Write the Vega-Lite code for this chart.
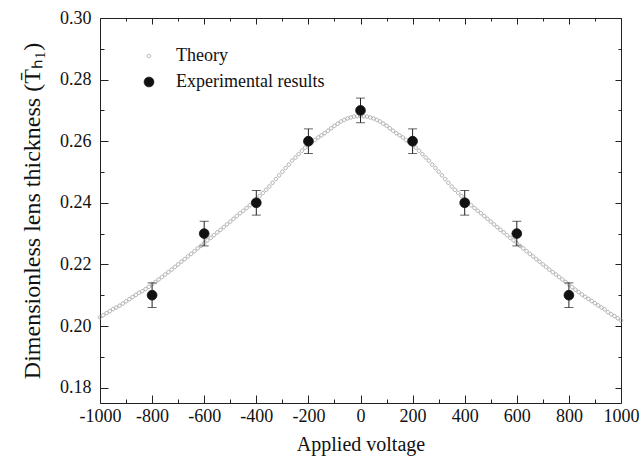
{
  "$schema": "https://vega.github.io/schema/vega-lite/v6.json",
  "width": 521,
  "height": 385,
  "autosize": "none",
  "padding": {"left": 100, "top": 18, "right": 23, "bottom": 53},
  "background": "white",
  "config": {
    "view": {"stroke": "#222", "strokeWidth": 1},
    "font": "Liberation Serif",
    "axis": {
      "domain": false, "grid": false, "tickColor": "#222", "tickWidth": 1,
      "labelFont": "Liberation Serif", "labelFontSize": 18, "labelColor": "#111",
      "titleFont": "Liberation Serif", "titleFontWeight": "normal", "titleColor": "#111",
      "labelOverlap": false, "labelFlush": false, "labelBound": false
    }
  },
  "datasets": {
    "theory": [
      {"v": -1000, "t": 0.2028}, {"v": -987.5, "t": 0.2035}, {"v": -975, "t": 0.2042}, {"v": -962.5, "t": 0.2048},
      {"v": -950, "t": 0.2055}, {"v": -937.5, "t": 0.2060}, {"v": -925, "t": 0.2066}, {"v": -912.5, "t": 0.2073},
      {"v": -900, "t": 0.2080}, {"v": -887.5, "t": 0.2087}, {"v": -875, "t": 0.2094}, {"v": -862.5, "t": 0.2101},
      {"v": -850, "t": 0.2108}, {"v": -837.5, "t": 0.2113}, {"v": -825, "t": 0.2120}, {"v": -812.5, "t": 0.2127},
      {"v": -800, "t": 0.2135}, {"v": -787.5, "t": 0.2143}, {"v": -775, "t": 0.2151}, {"v": -762.5, "t": 0.2159},
      {"v": -750, "t": 0.2167}, {"v": -737.5, "t": 0.2175}, {"v": -725, "t": 0.2183}, {"v": -712.5, "t": 0.2192},
      {"v": -700, "t": 0.2200}, {"v": -687.5, "t": 0.2209}, {"v": -675, "t": 0.2217}, {"v": -662.5, "t": 0.2226},
      {"v": -650, "t": 0.2234}, {"v": -637.5, "t": 0.2243}, {"v": -625, "t": 0.2252}, {"v": -612.5, "t": 0.2260},
      {"v": -600, "t": 0.2269}, {"v": -587.5, "t": 0.2278}, {"v": -575, "t": 0.2286}, {"v": -562.5, "t": 0.2295},
      {"v": -550, "t": 0.2304}, {"v": -537.5, "t": 0.2312}, {"v": -525, "t": 0.2321}, {"v": -512.5, "t": 0.2330},
      {"v": -500, "t": 0.2339}, {"v": -487.5, "t": 0.2348}, {"v": -475, "t": 0.2357}, {"v": -462.5, "t": 0.2366},
      {"v": -450, "t": 0.2374}, {"v": -437.5, "t": 0.2383}, {"v": -425, "t": 0.2392}, {"v": -412.5, "t": 0.2402},
      {"v": -400, "t": 0.2412}, {"v": -387.5, "t": 0.2422}, {"v": -375, "t": 0.2432}, {"v": -362.5, "t": 0.2442},
      {"v": -350, "t": 0.2453}, {"v": -337.5, "t": 0.2465}, {"v": -325, "t": 0.2477}, {"v": -312.5, "t": 0.2489},
      {"v": -300, "t": 0.2501}, {"v": -287.5, "t": 0.2513}, {"v": -275, "t": 0.2524}, {"v": -262.5, "t": 0.2537},
      {"v": -250, "t": 0.2547}, {"v": -237.5, "t": 0.2558}, {"v": -225, "t": 0.2569}, {"v": -212.5, "t": 0.2579},
      {"v": -200, "t": 0.2588}, {"v": -187.5, "t": 0.2596}, {"v": -175, "t": 0.2604}, {"v": -162.5, "t": 0.2612},
      {"v": -150, "t": 0.2619}, {"v": -137.5, "t": 0.2626}, {"v": -125, "t": 0.2634}, {"v": -112.5, "t": 0.2642},
      {"v": -100, "t": 0.2650}, {"v": -87.5, "t": 0.2657}, {"v": -75, "t": 0.2664}, {"v": -62.5, "t": 0.2669},
      {"v": -50, "t": 0.2674}, {"v": -37.5, "t": 0.2677}, {"v": -25, "t": 0.2680}, {"v": -12.5, "t": 0.2681},
      {"v": 0, "t": 0.2682},
      {"v": 12.5, "t": 0.2681}, {"v": 25, "t": 0.2680}, {"v": 37.5, "t": 0.2677}, {"v": 50, "t": 0.2674},
      {"v": 62.5, "t": 0.2669}, {"v": 75, "t": 0.2664}, {"v": 87.5, "t": 0.2657}, {"v": 100, "t": 0.2650},
      {"v": 112.5, "t": 0.2642}, {"v": 125, "t": 0.2634}, {"v": 137.5, "t": 0.2626}, {"v": 150, "t": 0.2619},
      {"v": 162.5, "t": 0.2612}, {"v": 175, "t": 0.2604}, {"v": 187.5, "t": 0.2596}, {"v": 200, "t": 0.2588},
      {"v": 212.5, "t": 0.2579}, {"v": 225, "t": 0.2569}, {"v": 237.5, "t": 0.2558}, {"v": 250, "t": 0.2547},
      {"v": 262.5, "t": 0.2537}, {"v": 275, "t": 0.2524}, {"v": 287.5, "t": 0.2513}, {"v": 300, "t": 0.2501},
      {"v": 312.5, "t": 0.2489}, {"v": 325, "t": 0.2477}, {"v": 337.5, "t": 0.2465}, {"v": 350, "t": 0.2453},
      {"v": 362.5, "t": 0.2442}, {"v": 375, "t": 0.2432}, {"v": 387.5, "t": 0.2422}, {"v": 400, "t": 0.2412},
      {"v": 412.5, "t": 0.2402}, {"v": 425, "t": 0.2392}, {"v": 437.5, "t": 0.2383}, {"v": 450, "t": 0.2374},
      {"v": 462.5, "t": 0.2366}, {"v": 475, "t": 0.2357}, {"v": 487.5, "t": 0.2348}, {"v": 500, "t": 0.2339},
      {"v": 512.5, "t": 0.2330}, {"v": 525, "t": 0.2321}, {"v": 537.5, "t": 0.2312}, {"v": 550, "t": 0.2304},
      {"v": 562.5, "t": 0.2295}, {"v": 575, "t": 0.2286}, {"v": 587.5, "t": 0.2278}, {"v": 600, "t": 0.2269},
      {"v": 612.5, "t": 0.2260}, {"v": 625, "t": 0.2252}, {"v": 637.5, "t": 0.2243}, {"v": 650, "t": 0.2234},
      {"v": 662.5, "t": 0.2226}, {"v": 675, "t": 0.2217}, {"v": 687.5, "t": 0.2209}, {"v": 700, "t": 0.2200},
      {"v": 712.5, "t": 0.2192}, {"v": 725, "t": 0.2183}, {"v": 737.5, "t": 0.2175}, {"v": 750, "t": 0.2167},
      {"v": 762.5, "t": 0.2159}, {"v": 775, "t": 0.2151}, {"v": 787.5, "t": 0.2143}, {"v": 800, "t": 0.2135},
      {"v": 812.5, "t": 0.2126}, {"v": 825, "t": 0.2118}, {"v": 837.5, "t": 0.2110}, {"v": 850, "t": 0.2102},
      {"v": 862.5, "t": 0.2095}, {"v": 875, "t": 0.2088}, {"v": 887.5, "t": 0.2081}, {"v": 900, "t": 0.2074},
      {"v": 912.5, "t": 0.2067}, {"v": 925, "t": 0.2060}, {"v": 937.5, "t": 0.2054}, {"v": 950, "t": 0.2045},
      {"v": 962.5, "t": 0.2038}, {"v": 975, "t": 0.2032}, {"v": 987.5, "t": 0.2025}, {"v": 1000, "t": 0.2018}
    ],
    "exp": [
      {"v": -800, "t": 0.21, "lo": 0.206, "hi": 0.214},
      {"v": -600, "t": 0.23, "lo": 0.226, "hi": 0.234},
      {"v": -400, "t": 0.24, "lo": 0.236, "hi": 0.244},
      {"v": -200, "t": 0.26, "lo": 0.256, "hi": 0.264},
      {"v": 0, "t": 0.27, "lo": 0.266, "hi": 0.274},
      {"v": 200, "t": 0.26, "lo": 0.256, "hi": 0.264},
      {"v": 400, "t": 0.24, "lo": 0.236, "hi": 0.244},
      {"v": 600, "t": 0.23, "lo": 0.226, "hi": 0.234},
      {"v": 800, "t": 0.21, "lo": 0.206, "hi": 0.214}
    ]
  },
  "layer": [
    {
      "data": {"name": "theory"},
      "mark": {"type": "point", "filled": true, "strokeWidth": 0.8, "size": 95, "opacity": 1},
      "encoding": {
        "x": {
          "field": "v", "type": "quantitative",
          "scale": {"domain": [-1000, 1000], "nice": false, "zero": false},
          "axis": {
            "orient": "bottom",
            "values": [-1000, -900, -800, -700, -600, -500, -400, -300, -200, -100, 0, 100, 200, 300, 400, 500, 600, 700, 800, 900, 1000],
            "labelExpr": "datum.value % 200 === 0 ? '' + datum.value : ''",
            "tickSize": {"condition": {"test": "datum.value % 200 === 0", "value": -8}, "value": -4},
            "labelPadding": 12,
            "title": "Applied voltage", "titleFontSize": 20,
            "titleBaseline": "alphabetic", "titleY": 47
          }
        },
        "y": {
          "field": "t", "type": "quantitative",
          "scale": {"domain": [0.175, 0.30], "nice": false, "zero": false},
          "axis": {
            "orient": "left",
            "values": [0.18, 0.19, 0.2, 0.21, 0.22, 0.23, 0.24, 0.25, 0.26, 0.27, 0.28, 0.29, 0.3],
            "labelExpr": "round(datum.value * 100) % 2 === 0 ? format(datum.value, '.2f') : ''",
            "tickSize": {"condition": {"test": "round(datum.value * 100) % 2 === 0", "value": -8}, "value": -4},
            "labelPadding": 17,
            "title": "Dimensionless lens thickness (T̄ₕ₁)", "titleFontSize": 24,
            "titleBaseline": "alphabetic", "titleX": -61
          }
        },
        "fill": {
          "datum": "Theory",
          "scale": {"domain": ["Theory", "Experimental results"], "range": ["transparent", "#111111"]},
          "legend": {
            "orient": "none", "legendX": 40, "legendY": 29, "title": null,
            "labelFont": "Liberation Serif", "labelFontSize": 18, "labelColor": "#111",
            "symbolSize": 95, "symbolStrokeWidth": 0.8, "labelOffset": 18, "rowPadding": 8
          }
        },
        "stroke": {
          "datum": "Theory",
          "scale": {"domain": ["Theory", "Experimental results"], "range": ["#9a9a9a", "#111111"]},
          "legend": {
            "orient": "none", "legendX": 40, "legendY": 29, "title": null,
            "labelFont": "Liberation Serif", "labelFontSize": 18, "labelColor": "#111",
            "symbolSize": 95, "symbolStrokeWidth": 0.8, "labelOffset": 18, "rowPadding": 8
          }
        },
        "shape": {
          "datum": "Theory",
          "scale": {"domain": ["Theory", "Experimental results"], "range": ["M-0.36,0A0.36,0.36 0 1,0 0.36,0A0.36,0.36 0 1,0 -0.36,0Z", "circle"]},
          "legend": {
            "orient": "none", "legendX": 40, "legendY": 29, "title": null,
            "labelFont": "Liberation Serif", "labelFontSize": 18, "labelColor": "#111",
            "symbolSize": 95, "symbolStrokeWidth": 0.8, "labelOffset": 18, "rowPadding": 8
          }
        }
      }
    },
    {
      "data": {"name": "exp"},
      "mark": {"type": "errorbar", "ticks": {"size": 9, "color": "#222", "strokeWidth": 1}, "rule": {"color": "#222", "strokeWidth": 1}},
      "encoding": {
        "x": {
          "field": "v", "type": "quantitative",
          "axis": {
            "orient": "top", "labels": false, "title": null,
            "values": [-1000, -900, -800, -700, -600, -500, -400, -300, -200, -100, 0, 100, 200, 300, 400, 500, 600, 700, 800, 900, 1000],
            "tickSize": {"condition": {"test": "datum.value % 200 === 0", "value": -6}, "value": -3}
          }
        },
        "y": {
          "field": "lo", "type": "quantitative",
          "axis": {
            "orient": "right", "labels": false, "title": null,
            "values": [0.18, 0.19, 0.2, 0.21, 0.22, 0.23, 0.24, 0.25, 0.26, 0.27, 0.28, 0.29, 0.3],
            "tickSize": {"condition": {"test": "round(datum.value * 100) % 2 === 0", "value": -6}, "value": -3}
          }
        },
        "y2": {"field": "hi"}
      }
    },
    {
      "data": {"name": "exp"},
      "mark": {"type": "point", "filled": true, "size": 95, "strokeWidth": 0.8, "opacity": 1},
      "encoding": {
        "x": {"field": "v", "type": "quantitative", "axis": null},
        "y": {"field": "t", "type": "quantitative", "axis": null},
        "fill": {"datum": "Experimental results"},
        "stroke": {"datum": "Experimental results"},
        "shape": {"datum": "Experimental results"}
      }
    }
  ],
  "resolve": {"axis": {"x": "independent", "y": "independent"}}
}
